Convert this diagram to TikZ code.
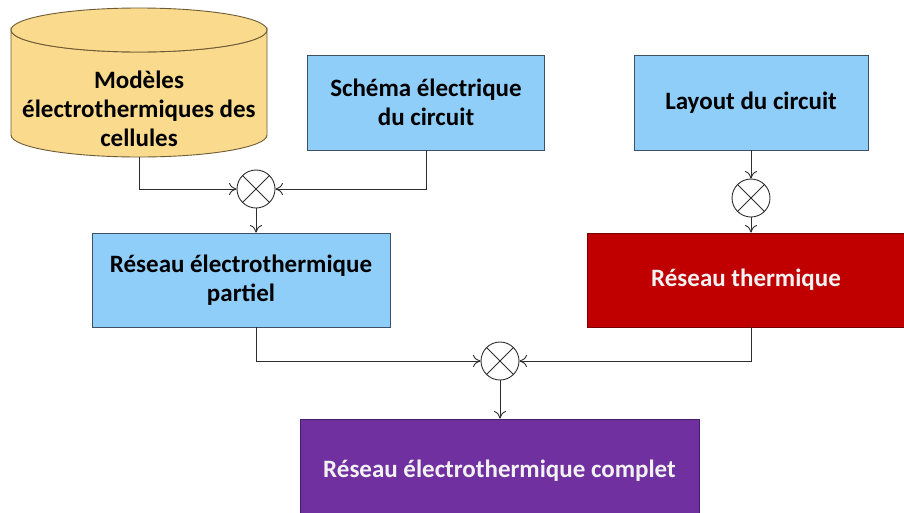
\documentclass[tikz,border=0pt]{standalone}
\usepackage{fontspec}
\setmainfont{Carlito}
\usetikzlibrary{arrows.meta}
\definecolor{bluefill}{HTML}{90CEFA}
\definecolor{blueedge}{HTML}{3E5066}
\definecolor{cylfill}{HTML}{FADA8C}
\definecolor{cyledge}{HTML}{6E5C36}
\definecolor{redfill}{HTML}{C00000}
\definecolor{rededge}{HTML}{7A0000}
\definecolor{purplefill}{HTML}{7030A0}
\definecolor{purpleedge}{HTML}{45206A}
\definecolor{lightext}{HTML}{F2F2F2}
\definecolor{linecol}{HTML}{2E2E2E}
\begin{document}
\begin{tikzpicture}[x=1pt,y=-1pt,
  font=\fontsize{25}{29}\selectfont\bfseries,
  bluebox/.style={draw=blueedge, fill=bluefill, line width=0.9pt, align=center, inner sep=0pt},
  redbox/.style={draw=rededge, fill=redfill, line width=0.9pt, align=center, inner sep=0pt, text=lightext},
  purplebox/.style={draw=purpleedge, fill=purplefill, line width=0.9pt, align=center, inner sep=0pt, text=lightext},
  xcirc/.style={circle, draw=linecol, line width=0.9pt, fill=white, minimum size=38pt, inner sep=0pt,
    path picture={\draw[linecol, line width=0.9pt] (path picture bounding box.north west) -- (path picture bounding box.south east)
      (path picture bounding box.north east) -- (path picture bounding box.south west);}},
  arr/.style={draw=linecol, line width=0.9pt, -{To[length=7.5pt,width=12pt]}}
]
\useasboundingbox (0,0) rectangle (904,512);
\clip (0,0) rectangle (904,512);
\fill[white] (0,0) rectangle (904,512);

% cylinder
\filldraw[fill=cylfill, draw=cyledge, line width=0.9pt]
  (11,30) -- (11,135) arc[start angle=180, end angle=360, x radius=128, y radius=-22] -- (267,30)
  arc[start angle=0, end angle=180, x radius=128, y radius=22] -- cycle;
\filldraw[fill=cylfill, draw=cyledge, line width=0.9pt] (139,30) ellipse [x radius=128, y radius=22];
\node[align=center, inner sep=0pt] (cyl) at (139,109) {Modèles\\électrothermiques des\\cellules};
\coordinate (cylb) at (139,157);

\node[bluebox, minimum width=237pt, minimum height=95pt] (schema) at (426,102.5) {Schéma électrique\\du circuit};
\node[bluebox, minimum width=234pt, minimum height=95pt] (layout) at (751,102.5) {Layout du circuit};
\node[bluebox, minimum width=298pt, minimum height=94pt] (partiel) at (241,280) {Réseau électrothermique\\partiel};
\node[redbox, minimum width=318pt, minimum height=94pt] (thermique) at (746,280) {Réseau thermique};
\node[purplebox, minimum width=399pt, minimum height=104pt] (complet) at (499.5,471) {Réseau électrothermique complet};

\node[xcirc] (m1) at (256,189) {};
\node[xcirc] (m2) at (751,198) {};
\node[xcirc] (m3) at (500,361) {};

\draw[arr] (cylb) |- (m1);
\draw[arr] (schema.south) |- (m1);
\draw[arr] (m1) -- (m1 |- partiel.north);
\draw[arr] (layout.south) -- (m2);
\draw[arr] (m2) -- (m2 |- thermique.north);
\draw[arr] (partiel.south -| m1) |- (m3);
\draw[arr] (thermique.south -| m2) |- (m3);
\draw[arr] (m3) -- (m3 |- complet.north);
\end{tikzpicture}
\end{document}
